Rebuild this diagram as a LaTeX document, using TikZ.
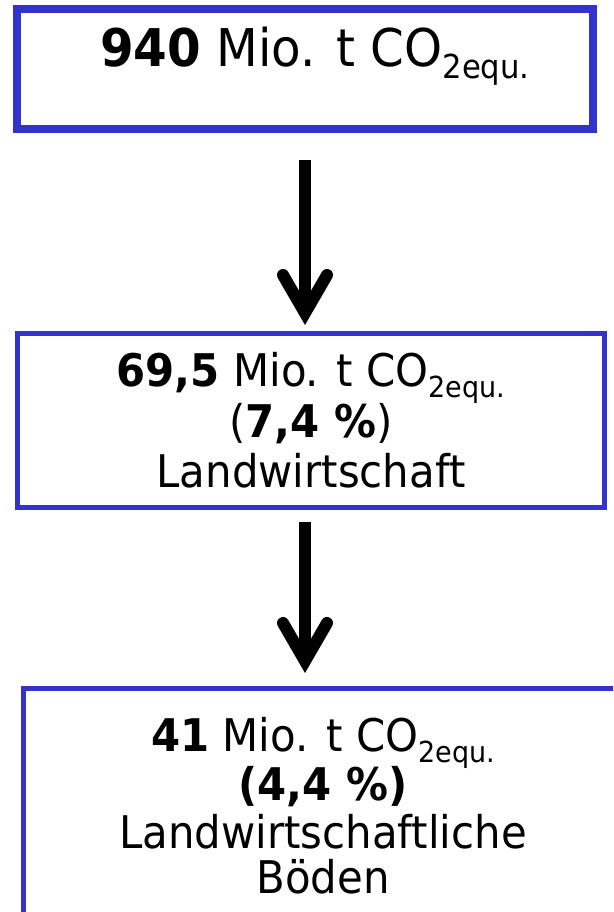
\documentclass[tikz,border=0pt]{standalone}
\usepackage{fontspec}
\setmainfont[FakeStretch=0.93]{DejaVu Sans}
\usetikzlibrary{arrows.meta}
\definecolor{boxblue}{RGB}{51,51,204}
\newcommand\subbig[1]{\raisebox{-12pt}{\fontsize{33}{33}\selectfont #1}}
\newcommand\subnorm[1]{\raisebox{-11pt}{\fontsize{29}{29}\selectfont #1}}
\tikzset{
  bluebox/.style={draw=boxblue, rectangle, outer sep=0pt, inner sep=0pt},
  txt/.style={anchor=base, inner sep=0pt, outer sep=0pt, font=\fontsize{45}{45}\selectfont},
  txtbig/.style={anchor=base, inner sep=0pt, outer sep=0pt, font=\fontsize{52}{52}\selectfont},
  bigarrow/.style={line width=12pt, black, line cap=butt,
    -{Straight Barb[length=38pt, width=44pt, line cap=round, line join=miter]}}
}
\begin{document}
\begin{tikzpicture}[x=1pt,y=-1pt]
\useasboundingbox (0,0) rectangle (613,912);
\clip (0,0) rectangle (613,912);
\fill[white] (0,0) rectangle (613,912);
% boxes
\node[bluebox, line width=8pt, minimum width=576pt, minimum height=120pt] (top) at (305,69) {};
\node[bluebox, line width=5pt, minimum width=587pt, minimum height=174pt] (mid) at (311,420.5) {};
\node[bluebox, line width=5pt, minimum width=640pt, minimum height=240pt, anchor=north west] (bot) at (23.5,688.5) {};
% texts
\node[txtbig] (t1) at (315,67) {\textbf{940} Mio. t CO\subbig{2equ.}};
\node[txt] (m1) at (311,386) {\textbf{69,5} Mio. t CO\subnorm{2equ.}};
\node[txt] (m2) at (311,437) {(\textbf{7,4 \%})};
\node[txt] (m3) at (311,487) {Landwirtschaft};
\node[txt] (b1) at (323,751) {\textbf{41} Mio. t CO\subnorm{2equ.}};
\node[txt] (b2) at (323,800) {\textbf{(4,4 \%)}};
\node[txt] (b3) at (323,848) {Landwirtschaftliche};
\node[txt] (b4) at (323,893) {Böden};
% arrows
\coordinate (ax) at (305,0);
\draw[bigarrow, shorten <=31pt, shorten >=8.5pt] (top.south -| ax) -- (mid.north -| ax);
\draw[bigarrow, shorten <=14.5pt, shorten >=15.5pt] (mid.south -| ax) -- (bot.north -| ax);
\end{tikzpicture}
\end{document}
